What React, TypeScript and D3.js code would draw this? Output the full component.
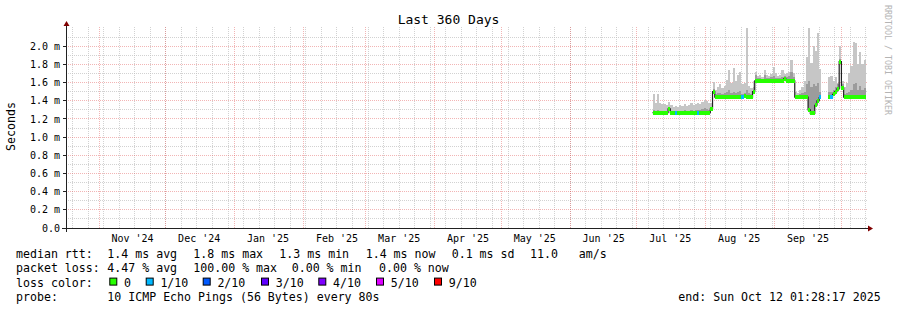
import React from 'react';
import * as d3 from 'd3';

// ---------- data ----------
const TITLE = 'Last 360 Days';
const Y_LABEL = 'Seconds';
const WATERMARK = 'RRDTOOL / TOBI OETIKER';
const START = new Date(Date.UTC(2024, 9, 17, 1, 28, 17));
const END = new Date(Date.UTC(2025, 9, 12, 1, 28, 17));
const FIRST_DAY = new Date(Date.UTC(2025, 6, 8));
const Y_MAX = 2.2;
const Y_TICKS = [0, 0.2, 0.4, 0.6, 0.8, 1.0, 1.2, 1.4, 1.6, 1.8, 2.0];

// daily median rtt (ms), Jul 8 .. Oct 11 2025
const medianMs: (number | null)[] = [
  1.27, 1.27, 1.26, 1.27, 1.27, 1.27, 1.27, 1.31,
  1.27, 1.27, 1.27, 1.26, 1.27, 1.27, 1.27, 1.27, 1.27, 1.27, 1.27, 1.27, 1.27, 1.27, 1.27, 1.27, 1.27, 1.27, 1.31,
  1.50, 1.44, 1.44, 1.44, 1.44, 1.44, 1.44, 1.44, 1.44, 1.44, 1.44, 1.44, 1.44, 1.44, 1.45, 1.44, 1.44, 1.44, 1.50,
  1.62, 1.62, 1.62, 1.62, 1.62, 1.62, 1.62, 1.62, 1.62, 1.62, 1.62, 1.62, 1.62, 1.64, 1.62, 1.62, 1.62, 1.62,
  1.44, 1.44, 1.44, 1.44, 1.44, 1.44, 1.30, 1.26, 1.26, 1.35, 1.40, 1.44,
  null, null, null,
  1.44, 1.44, 1.47, 1.50, 1.53, 1.83, 1.54,
  1.44, 1.44, 1.44, 1.44, 1.44, 1.44, 1.44, 1.44, 1.44, 1.44,
];

// daily packet loss (tenths of 10 pings)
const lossTenths: number[] = [
  0, 0, 0, 0, 0, 0, 0, 0,
  0, 0, 1, 0, 0, 0, 0, 0, 0, 0, 0, 0, 1, 0, 0, 0, 0, 0, 0,
  0, 0, 0, 0, 0, 0, 0, 0, 0, 0, 0, 0, 0, 1, 0, 0, 0, 0, 0,
  0, 0, 0, 0, 0, 0, 0, 0, 0, 0, 0, 0, 0, 0, 0, 0, 0, 0,
  0, 0, 0, 0, 0, 0, 0, 0, 0, 0, 0, 1,
  10, 10, 10,
  0, 1, 0, 0, 0, 0, 0,
  0, 0, 0, 0, 0, 0, 0, 0, 0, 0,
];

// daily max ping (outer smoke top, ms)
const smokeMaxMs: (number | null)[] = [
  1.47, 1.38, 1.47, 1.37, 1.36, 1.36, 1.35, 1.39,
  1.35, 1.33, 1.34, 1.33, 1.35, 1.34, 1.36, 1.34, 1.35, 1.37, 1.35, 1.36, 1.38, 1.36, 1.39, 1.41, 1.40, 1.38, 1.37,
  1.61, 1.52, 1.55, 1.58, 1.54, 1.56, 1.63, 1.74, 1.60, 1.76, 1.62, 1.68, 1.72, 1.58, 1.60, 2.20, 1.56, 1.54, 1.62,
  1.72, 1.67, 1.68, 1.66, 1.74, 1.68, 1.67, 1.69, 1.77, 1.70, 1.67, 1.68, 1.74, 1.69, 1.70, 1.72, 1.85, 1.70,
  1.50, 1.49, 1.52, 1.55, 1.62, 1.88, 2.20, 1.82, 2.00, 1.95, 2.15, 1.75,
  null, null, null,
  1.66, 1.67, 1.62, 1.66, 1.60, 2.00, 1.62,
  1.55, 1.60, 1.70, 1.78, 2.05, 2.04, 1.80, 1.94, 1.80, 1.85,
];

// daily inner smoke top (darker band, ms)
const smokeMidMs: (number | null)[] = [
  1.30, 1.29, 1.30, 1.29, 1.29, 1.29, 1.29, 1.33,
  1.29, 1.28, 1.29, 1.29, 1.29, 1.29, 1.30, 1.29, 1.29, 1.30, 1.29, 1.30, 1.30, 1.30, 1.31, 1.32, 1.31, 1.30, 1.33,
  1.53, 1.47, 1.48, 1.48, 1.47, 1.48, 1.50, 1.52, 1.48, 1.50, 1.48, 1.50, 1.51, 1.47, 1.48, 1.52, 1.48, 1.47, 1.55,
  1.68, 1.65, 1.65, 1.64, 1.68, 1.65, 1.65, 1.66, 1.67, 1.65, 1.65, 1.65, 1.66, 1.67, 1.66, 1.67, 1.72, 1.66,
  1.46, 1.46, 1.47, 1.48, 1.50, 1.58, 1.62, 1.55, 1.58, 1.56, 1.60, 1.50,
  null, null, null,
  1.50, 1.50, 1.52, 1.55, 1.58, 1.86, 1.58,
  1.47, 1.48, 1.50, 1.52, 1.58, 1.60, 1.52, 1.56, 1.52, 1.54,
];

const LOSS_LABELS = ['0', '1/10', '2/10', '3/10', '4/10', '5/10', '9/10'];
const LOSS_THRESHOLDS = [0, 1, 2, 3, 4, 5, 9];
const LOSS_COLORS = ['#26ff00', '#00b8ff', '#0059ff', '#5e00ff', '#7e00ff', '#dd00ff', '#ff0000'];

const RTT_LABEL = 'median rtt:';
const RTT_STATS = ['1.4 ms avg', '1.8 ms max', '1.3 ms min', '1.4 ms now', '0.1 ms sd', '11.0   am/s'];
const LOSS_LABEL = 'packet loss:';
const LOSS_STATS = ['4.47 % avg', '100.00 % max', '0.00 % min', '0.00 % now'];
const COLOR_LABEL = 'loss color:';
const PROBE_LABEL = 'probe:';
const PROBE_TEXT = '10 ICMP Echo Pings (56 Bytes) every 80s';
const END_TEXT = 'end: Sun Oct 12 01:28:17 2025';

// ---------- layout ----------
const W = 897;
const H = 310;
const X0 = 66;
const X1 = 866;
const Y0 = 228;
const Y1 = 28;
const FONT = '"DejaVu Sans Mono", monospace';
const RTT_X = [107.3, 193.3, 279.3, 365.7, 451.7, 530];
const LOSS_X = [107.3, 193.3, 291.7, 379];
const BOX_X = [109.3, 145.7, 202.7, 261, 318.3, 376, 434];
const ROW_Y = [258, 272.3, 286.6, 300.9];

const keepSpaces = (s: string) => s.replace(/ /g, '\u00A0');

function lossColor(v: number) {
  let idx = 0;
  LOSS_THRESHOLDS.forEach((t, i) => {
    if (v >= t) idx = i;
  });
  return LOSS_COLORS[idx];
}

export default function App() {
  const x = d3.scaleUtc().domain([START, END]).range([X0, X1]);
  const y = d3.scaleLinear().domain([0, Y_MAX]).range([Y0, Y1]);
  const snap = (v: number) => Math.floor(v) + 0.5;

  const days = medianMs.map((_, i) => d3.utcDay.offset(FIRST_DAY, i));
  const dayX = (i: number) => x(days[i]);
  const dayX2 = (i: number) => Math.min(x(d3.utcDay.offset(days[i], 1)), X1);

  const weeks = d3.utcSunday.range(START, END);
  const months = d3.utcMonth.range(START, END);
  const labelMonths = d3.utcMonth
    .range(d3.utcMonth.offset(START, -1), END)
    .map((m) => d3.utcDay.offset(m, 15))
    .filter((d) => d > START && d < END);
  const fmtMonth = d3.utcFormat("%b '%y");

  const minorY = d3.range(1, 22).map((k) => k / 10).filter((v) => Math.round(v * 10) % 2 === 1);

  const medianLine = d3
    .line<number>()
    .defined((i) => medianMs[i] != null)
    .x((i) => dayX(i))
    .y((i) => y(medianMs[i] as number))
    .curve(d3.curveStepAfter);
  const idx = medianMs.map((_, i) => i);
  const lastIdx = idx.length - 1;
  const medPath = medianLine(idx) || '';
  const lastEnd = `L${dayX2(lastIdx)},${y(medianMs[lastIdx] as number)}`;

  const gridColor = 'rgba(191,191,191,0.7)';
  const mgridColor = 'rgba(224,79,79,0.42)';

  return (
    <svg
      width={W}
      height={H}
      style={{ position: 'absolute', left: 0, top: 0, background: '#fff' }}
      fontFamily={FONT}
    >
      <rect x={0} y={0} width={W} height={H} fill="#ffffff" />

      {/* minor horizontal grid */}
      {minorY.map((v) => (
        <line key={'mh' + v} x1={X0} x2={X1 + 2} y1={snap(y(v))} y2={snap(y(v))}
          stroke={gridColor} strokeDasharray="1,1" shapeRendering="crispEdges" />
      ))}
      {/* minor vertical grid (weekly) */}
      {weeks.map((d) => (
        <line key={'mv' + +d} x1={snap(x(d))} x2={snap(x(d))} y1={Y0} y2={Y1 - 2}
          stroke={gridColor} strokeDasharray="1,1" shapeRendering="crispEdges" />
      ))}
      {/* major horizontal grid */}
      {Y_TICKS.filter((v) => v > 0).map((v) => (
        <line key={'Mh' + v} x1={X0} x2={X1 + 2} y1={snap(y(v))} y2={snap(y(v))}
          stroke={mgridColor} strokeDasharray="1,1" shapeRendering="crispEdges" />
      ))}
      {/* major vertical grid (months) */}
      {months.map((d) => (
        <line key={'Mv' + +d} x1={snap(x(d))} x2={snap(x(d))} y1={Y0} y2={Y1 - 2}
          stroke={mgridColor} strokeDasharray="1,1" shapeRendering="crispEdges" />
      ))}

      {/* smoke */}
      {idx.map((i) =>
        medianMs[i] != null && smokeMaxMs[i] != null ? (
          <rect key={'s' + i} x={dayX(i)} width={dayX2(i) - dayX(i)}
            y={y(smokeMaxMs[i] as number)}
            height={y(medianMs[i] as number) - y(smokeMaxMs[i] as number)}
            fill="#c6c6c6" shapeRendering="crispEdges" />
        ) : null
      )}
      {idx.map((i) =>
        medianMs[i] != null && smokeMidMs[i] != null ? (
          <rect key={'d' + i} x={dayX(i)} width={dayX2(i) - dayX(i)}
            y={y(smokeMidMs[i] as number)}
            height={Math.max(0, y(medianMs[i] as number) - y(smokeMidMs[i] as number))}
            fill="#9c9c9c" shapeRendering="crispEdges" />
        ) : null
      )}

      {/* median black line */}
      <path d={medPath + lastEnd} fill="none" stroke="#202020" strokeWidth={1.2} />

      {/* loss-coloured median band */}
      {idx.map((i) =>
        medianMs[i] != null ? (
          <rect key={'m' + i} x={dayX(i)} width={dayX2(i) - dayX(i)}
            y={y(medianMs[i] as number) - 2} height={4}
            fill={lossColor(lossTenths[i])} shapeRendering="crispEdges" />
        ) : null
      )}

      {/* axes */}
      <line x1={X0 - 4} x2={X1 + 3} y1={Y0 + 0.5} y2={Y0 + 0.5} stroke="#212121" />
      <line x1={X0 + 0.5} x2={X0 + 0.5} y1={Y0 + 4} y2={Y1 - 4} stroke="#212121" />
      <path d={`M${X1 + 2},${Y0 - 2.5}L${X1 + 7},${Y0 + 0.5}L${X1 + 2},${Y0 + 3.5}Z`} fill="#800000" />
      <path d={`M${X0 - 2.5},${Y1 - 2}L${X0 + 0.5},${Y1 - 7}L${X0 + 3.5},${Y1 - 2}Z`} fill="#800000" />
      {Y_TICKS.map((v) => (
        <line key={'t' + v} x1={X0 - 3} x2={X0} y1={snap(y(v))} y2={snap(y(v))} stroke="#212121" />
      ))}

      {/* y tick labels */}
      {Y_TICKS.map((v) => (
        <text key={'yl' + v} x={60} y={y(v) + 3.6} textAnchor="end" fontSize={10} fill="#000">
          {keepSpaces(v === 0 ? '0.0' : v.toFixed(1) + ' m')}
        </text>
      ))}
      {/* x labels */}
      {labelMonths.map((d) => (
        <text key={'xl' + +d} x={x(d)} y={241.5} textAnchor="middle" fontSize={10} fill="#000">
          {keepSpaces(fmtMonth(d))}
        </text>
      ))}

      {/* title */}
      <text x={W / 2} y={23.5} textAnchor="middle" fontSize={13} fill="#000">{keepSpaces(TITLE)}</text>
      {/* y label */}
      <text transform="translate(14.5,126.5) rotate(-90)" textAnchor="middle" fontSize={11.6} fill="#000">
        {Y_LABEL}
      </text>
      {/* watermark */}
      <text transform="translate(885,60) rotate(90)" textAnchor="middle" fontSize={8.3} fill="#b4b4b4">
        {keepSpaces(WATERMARK)}
      </text>

      {/* legend */}
      <g fontSize={11.6} fill="#000">
        <text x={16} y={ROW_Y[0]}>{keepSpaces(RTT_LABEL)}</text>
        {RTT_STATS.map((s, i) => (
          <text key={'r' + i} x={RTT_X[i]} y={ROW_Y[0]}>{keepSpaces(s)}</text>
        ))}
        <text x={16} y={ROW_Y[1]}>{keepSpaces(LOSS_LABEL)}</text>
        {LOSS_STATS.map((s, i) => (
          <text key={'l' + i} x={LOSS_X[i]} y={ROW_Y[1]}>{keepSpaces(s)}</text>
        ))}
        <text x={16} y={ROW_Y[2]}>{keepSpaces(COLOR_LABEL)}</text>
        {LOSS_LABELS.map((s, i) => (
          <g key={'c' + i}>
            <rect x={BOX_X[i] + 0.5} y={ROW_Y[2] - 8.5} width={7} height={7}
              fill={LOSS_COLORS[i]} stroke="#000" strokeWidth={1} />
            <text x={BOX_X[i] + 14.7} y={ROW_Y[2]}>{s}</text>
          </g>
        ))}
        <text x={16} y={ROW_Y[3]}>{keepSpaces(PROBE_LABEL)}</text>
        <text x={107.3} y={ROW_Y[3]}>{keepSpaces(PROBE_TEXT)}</text>
        <text x={678.3} y={ROW_Y[3]}>{keepSpaces(END_TEXT)}</text>
      </g>
    </svg>
  );
}
